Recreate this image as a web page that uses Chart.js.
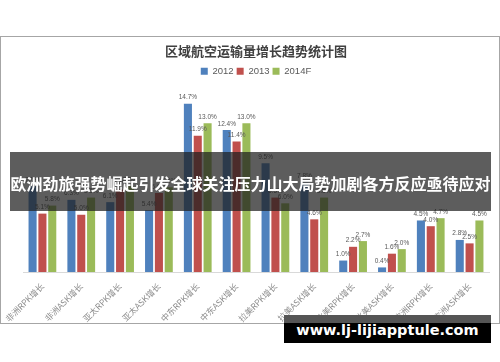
<!DOCTYPE html>
<html><head><meta charset="utf-8">
<script src="https://cdn.jsdelivr.net/npm/chart.js@4"></script>
<style>
html,body{margin:0;padding:0;background:#fff;width:500px;height:362px;overflow:hidden;}
#frame{position:absolute;left:0;top:36px;width:500px;height:288px;box-sizing:border-box;border:1px solid #a6a6a6;}
#wrap{position:absolute;left:1px;top:37px;width:498px;height:286px;}
#banner{position:absolute;left:10px;top:152px;width:481px;height:59px;background:rgba(30,30,30,0.72);color:#fff;font:bold 16px "Noto Sans CJK SC";line-height:59px;text-align:center;white-space:nowrap;padding-top:2px;box-sizing:border-box;}
#wm{position:absolute;left:284px;top:315px;width:207px;height:28px;background:linear-gradient(#555 0,#555 8px,#000 8px,#000 100%);color:#fff;font:bold 14.5px "DejaVu Sans";line-height:30px;text-align:center;white-space:nowrap;}
</style></head>
<body>
<div id="frame"></div>
<div id="wrap"><canvas id="c" width="498" height="286"></canvas></div>
<div id="banner">欧洲劲旅强势崛起引发全球关注压力山大局势加剧各方反应亟待应对</div>
<div id="wm">www.lj-lijiapptule.com</div>
<script>
const chartTitle = '区域航空运输量增长趋势统计图';
const categories = ['非洲RPK增长','非洲ASK增长','亚太RPK增长','亚太ASK增长','中东RPK增长','中东ASK增长','拉美RPK增长','拉美ASK增长','北美RPK增长','北美ASK增长','欧洲RPK增长','欧洲ASK增长'];
const seriesNames = ['2012','2013','2014F'];
const v2012 = [7.5, 6.3, 6.1, 5.4, 14.7, 12.4, 9.5, 7.8, 1.0, 0.4, 4.5, 2.8];
const v2013 = [5.1, 5.0, 7.2, 6.9, 11.9, 11.4, 6.5, 4.6, 2.2, 1.6, 4.0, 2.5];
const v2014F = [5.8, 6.5, 7.5, 7.4, 13.0, 13.0, 6.0, 6.5, 2.7, 2.0, 4.7, 4.5];
const seriesColors = ['#4f81bd','#c0504d','#9bbb59'];
const pxPerPercent = 11.45;

const valueLabels = {
  id: 'valueLabels',
  afterDatasetsDraw(chart) {
    const ctx = chart.ctx;
    ctx.save();
    ctx.font = '6.5px "Liberation Sans"';
    ctx.fillStyle = '#595959';
    ctx.textAlign = 'center';
    ctx.textBaseline = 'bottom';
    chart.data.datasets.forEach((ds, i) => {
      chart.getDatasetMeta(i).data.forEach((bar, j) => {
        ctx.fillText(ds.data[j].toFixed(1) + '%', bar.x, bar.y - 3);
      });
    });
    ctx.restore();
  }
};

const seriesData = [v2012, v2013, v2014F];
const chart = new Chart(document.getElementById('c'), {
  type: 'bar',
  data: {
    labels: categories,
    datasets: seriesNames.map((n, i) => ({
      label: n, data: seriesData[i], backgroundColor: seriesColors[i],
      categoryPercentage: 0.76, barPercentage: 0.82
    }))
  },
  options: {
    responsive: false, animation: false, devicePixelRatio: 1,
    layout: { padding: { left: 22, right: 10, top: 0, bottom: 0 } },
    plugins: {
      title: { display: true, text: chartTitle, color: '#404040',
        font: { size: 13, weight: 'bold', family: '"Noto Sans CJK SC"' }, padding: { top: 6, bottom: 5 } },
      legend: { labels: { boxWidth: 7, boxHeight: 7, padding: 3, color: '#595959', font: { size: 9.5, family: '"Liberation Sans"' } } },
      tooltip: { enabled: false }
    },
    scales: {
      x: {
        grid: { display: true, drawOnChartArea: false, drawTicks: false },
        border: { display: true, color: '#d9d9d9' },
        ticks: { minRotation: 45, maxRotation: 45, autoSkip: false, padding: 9, color: '#8c8c8c',
          font: { size: 8.5, family: '"Noto Sans CJK SC"' } },
        afterFit(s) { s.height = 51; s.paddingLeft = 0; s.paddingRight = 0; }
      },
      y: { display: false, min: 0, max: 16.68 }
    }
  },
  plugins: [valueLabels]
});
// scale so that one percent spans the same height as in the reference
chart.options.scales.y.max = (chart.chartArea.bottom - chart.chartArea.top) / pxPerPercent;
chart.update();
</script>
</body></html>
